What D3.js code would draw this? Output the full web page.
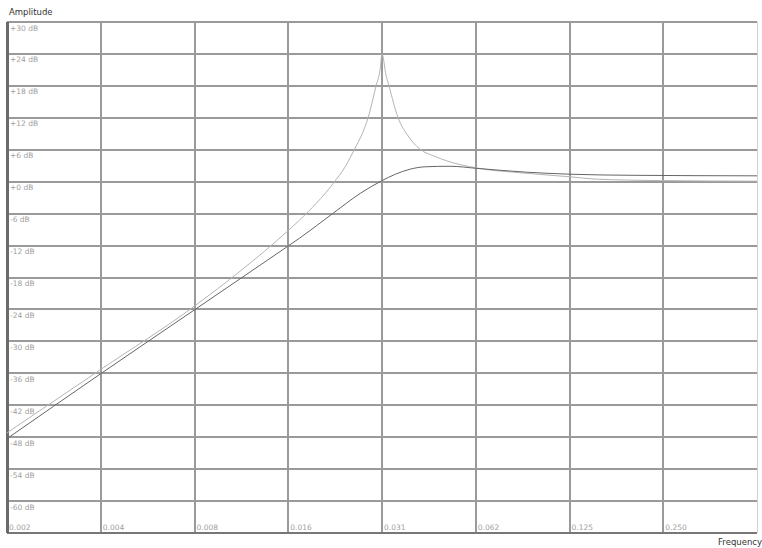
<!DOCTYPE html>
<html>
<head>
<meta charset="utf-8">
<script src="https://cdn.jsdelivr.net/npm/d3@7"></script>
<style>
  body { margin: 0; background: #fff; }
  svg { display: block; }
</style>
</head>
<body>
<div id="chart"></div>
<script>
// y grid values (dB) and x grid values (frequency, octave steps)
const dbTicks = [30, 24, 18, 12, 6, 0, -6, -12, -18, -24, -30, -36, -42, -48, -54, -60];
const dbLabels = ["+30 dB", "+24 dB", "+18 dB", "+12 dB", "+6 dB", "+0 dB", "-6 dB", "-12 dB", "-18 dB",
  "-24 dB", "-30 dB", "-36 dB", "-42 dB", "-48 dB", "-54 dB", "-60 dB"];
const freqTicks = [1 / 512, 1 / 256, 1 / 128, 1 / 64, 1 / 32, 1 / 16, 1 / 8, 1 / 4];
const freqLabels = ["0.002", "0.004", "0.008", "0.016", "0.031", "0.062", "0.125", "0.250"];

// dark curve
const freqDark = [0.00195, 0.0039, 0.0078, 0.0156, 0.017, 0.0218, 0.0266, 0.03125, 0.0345, 0.0382,
  0.043, 0.0517, 0.0631, 0.09, 0.1264, 0.2, 0.5];
const dbDark = [-48.3, -36.1, -24.1, -12.1, -10.6, -5.9, -2.2, 0.2, 1.4, 2.3,
  2.8, 2.9, 2.5, 1.8, 1.4, 1.2, 1.1];

// light (resonant) curve
const freqLight = [0.00195, 0.0039, 0.0078, 0.0156, 0.017, 0.0218, 0.0238, 0.0256, 0.027, 0.0282,
  0.0299, 0.0308, 0.03125, 0.0322, 0.0329, 0.0352, 0.0379, 0.0414, 0.046, 0.0505, 0.0625,
  0.09, 0.1264, 0.15, 0.25, 0.5];
const dbLight = [-47.2, -35.3, -23.4, -9.2, -7.2, -0.3, 2.8, 6.3, 9, 12,
  18, 21, 24, 20, 18, 12, 8.6, 6.1, 4.8, 3.9, 2.6,
  1.6, 0.9, 0.5, 0.2, 0.1];

const W = 762, H = 548;
const plot = { left: 7, right: 757, top: 22, bottom: 533 };

const svg = d3.select("#chart").append("svg")
  .attr("width", W)
  .attr("height", H);

const x = d3.scaleLog().base(2).domain([1 / 512, 0.5]).range([plot.left, plot.right]);
const y = d3.scaleLinear().domain([-66, 30]).range([plot.bottom, plot.top]);

const grid = svg.append("g").attr("shape-rendering", "crispEdges");

// horizontal grid
grid.selectAll(".hline")
  .data(dbTicks)
  .enter()
  .append("line")
  .attr("x1", plot.left)
  .attr("x2", plot.right)
  .attr("y1", d => Math.round(y(d)))
  .attr("y2", d => Math.round(y(d)))
  .attr("stroke", "#9a9a9a")
  .attr("stroke-width", 2);

// vertical grid
grid.selectAll(".vline")
  .data(freqTicks)
  .enter()
  .append("line")
  .attr("x1", d => Math.round(x(d)))
  .attr("x2", d => Math.round(x(d)))
  .attr("y1", plot.top)
  .attr("y2", plot.bottom)
  .attr("stroke", "#9a9a9a")
  .attr("stroke-width", 2);

// right edge (faint) and bottom / left borders
grid.append("line")
  .attr("x1", plot.right + 0.5).attr("x2", plot.right + 0.5)
  .attr("y1", plot.top).attr("y2", plot.bottom)
  .attr("stroke", "#d0d0d0");
grid.append("line")
  .attr("x1", plot.left).attr("x2", plot.right)
  .attr("y1", plot.bottom).attr("y2", plot.bottom)
  .attr("stroke", "#777")
  .attr("stroke-width", 2);
grid.append("line")
  .attr("x1", plot.left).attr("x2", plot.left)
  .attr("y1", plot.top).attr("y2", plot.bottom)
  .attr("stroke", "#6a6a6a")
  .attr("stroke-width", 3);

// dB labels
svg.selectAll(".dblab")
  .data(dbTicks)
  .enter()
  .append("text")
  .attr("x", plot.left + 3)
  .attr("y", d => y(d) + 8.5)
  .attr("font-family", "DejaVu Sans, sans-serif")
  .attr("font-size", "7.5px")
  .attr("fill", "#a0a0a0")
  .text((d, i) => dbLabels[i]);

// frequency labels
svg.selectAll(".flab")
  .data(freqTicks)
  .enter()
  .append("text")
  .attr("x", d => x(d) + 2)
  .attr("y", plot.bottom - 3)
  .attr("font-family", "DejaVu Sans, sans-serif")
  .attr("font-size", "7.5px")
  .attr("fill", "#a0a0a0")
  .text((d, i) => freqLabels[i]);

svg.append("text")
  .attr("x", 9)
  .attr("y", 15)
  .attr("font-family", "DejaVu Sans, sans-serif")
  .attr("font-size", "8.5px")
  .attr("fill", "#333")
  .text("Amplitude");

svg.append("text")
  .attr("x", 762)
  .attr("y", 545)
  .attr("text-anchor", "end")
  .attr("font-family", "DejaVu Sans, sans-serif")
  .attr("font-size", "8.5px")
  .attr("fill", "#333")
  .text("Frequency");

const line = d3.line()
  .x(d => x(d[0]))
  .y(d => y(d[1]))
  .curve(d3.curveMonotoneX);

svg.append("path")
  .datum(d3.zip(freqLight, dbLight))
  .attr("d", line)
  .attr("fill", "none")
  .attr("stroke", "#b4b4b4")
  .attr("stroke-width", 1);

svg.append("path")
  .datum(d3.zip(freqDark, dbDark))
  .attr("d", line)
  .attr("fill", "none")
  .attr("stroke", "#666")
  .attr("stroke-width", 1);
</script>
</body>
</html>
